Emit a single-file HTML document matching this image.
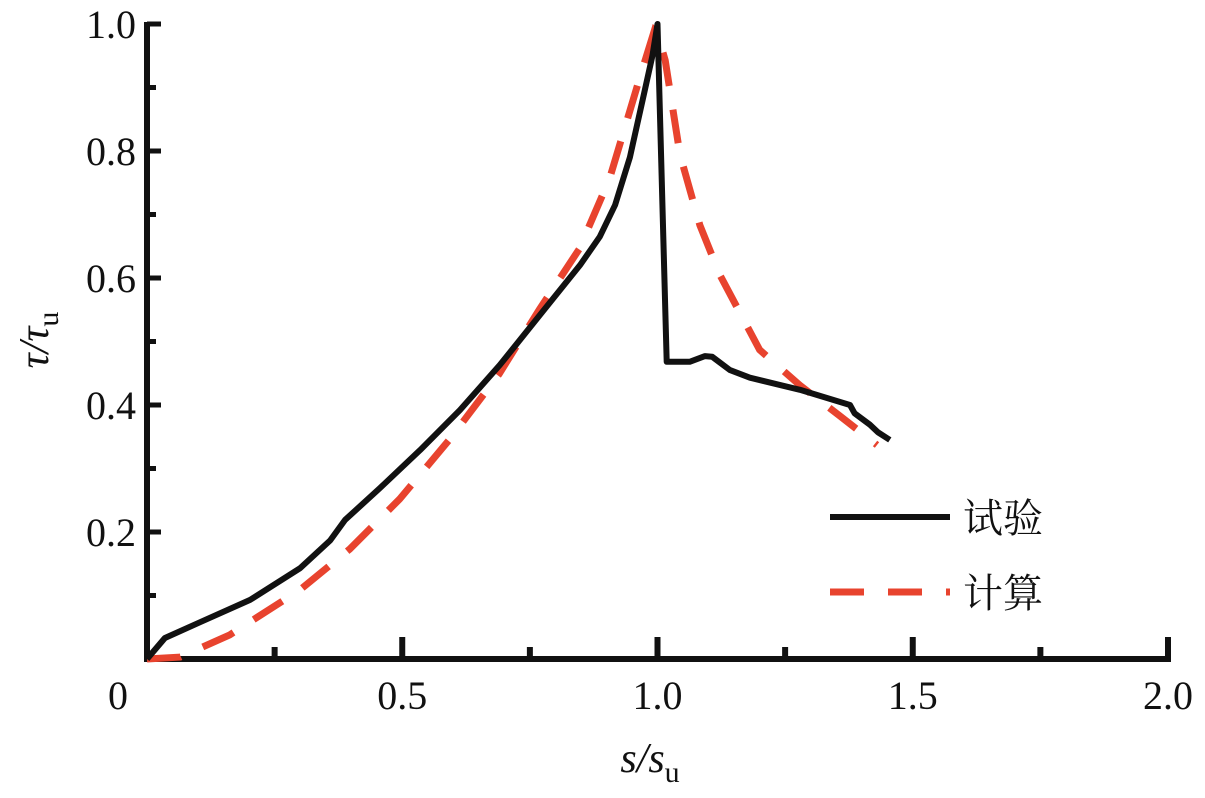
<!DOCTYPE html>
<html><head><meta charset="utf-8"><style>
body{margin:0;background:#fff;}
svg text{font-family:"Liberation Serif","Noto Serif CJK SC",serif;fill:#111;}
</style></head><body>
<svg id="chart" width="1205" height="793" viewBox="0 0 1205 793" xmlns="http://www.w3.org/2000/svg">
<g id="axes"></g>
<g id="series"></g>
<text transform="translate(48,340) rotate(-90)" text-anchor="middle" font-size="42" font-style="italic">τ/τ<tspan font-style="normal" font-size="30" dy="10">u</tspan></text>
<text x="650" y="772" text-anchor="middle" font-size="42" font-style="italic">s/s<tspan font-style="normal" font-size="30" dy="10">u</tspan></text>
<g>
<line x1="830" y1="517" x2="950" y2="517" stroke="#111" stroke-width="6"/>
<text x="963" y="532" font-size="40">试验</text>
<line x1="830" y1="592" x2="950" y2="592" stroke="#e8432e" stroke-width="7" stroke-dasharray="34,24"/>
<text x="963" y="607" font-size="40">计算</text>
</g>
</svg>
<script>
const testX=[0,0.035,0.104,0.202,0.3,0.359,0.388,0.456,0.535,0.613,0.691,0.770,0.848,0.887,0.917,0.946,0.975,0.99,1.0,1.018,1.063,1.093,1.107,1.142,1.181,1.279,1.377,1.386,1.416,1.432,1.455];
const testY=[0,0.033,0.058,0.093,0.143,0.187,0.219,0.269,0.329,0.392,0.463,0.542,0.620,0.665,0.715,0.790,0.895,0.95,1.0,0.468,0.468,0.477,0.476,0.455,0.443,0.424,0.400,0.387,0.369,0.357,0.345];
const calcX=[0,0.065,0.162,0.3,0.397,0.495,0.593,0.690,0.769,0.847,0.906,0.964,0.994,1.0,1.015,1.044,1.083,1.122,1.2,1.279,1.357,1.43];
const calcY=[0,0.003,0.038,0.109,0.173,0.252,0.346,0.449,0.551,0.646,0.756,0.912,0.99,0.985,0.943,0.794,0.683,0.605,0.487,0.431,0.383,0.337];
const xTicks=[0,0.5,1.0,1.5,2.0];
const xTickLabels=["0","0.5","1.0","1.5","2.0"];
const yTicks=[0.2,0.4,0.6,0.8,1.0];
const yTickLabels=["0.2","0.4","0.6","0.8","1.0"];
const X=v=>147+v*510.5, Y=v=>659-v*635;
const NS="http://www.w3.org/2000/svg";
const axes=document.getElementById('axes'), series=document.getElementById('series');
function mk(t,a,p){const e=document.createElementNS(NS,t);for(const k in a)e.setAttribute(k,a[k]);p.appendChild(e);return e;}
let e=mk('line',{x1:147,y1:Y(0),x2:1171,y2:Y(0),stroke:'#111','stroke-width':6},axes);


e=mk('line',{x1:147,y1:22,x2:147,y2:662,stroke:'#111','stroke-width':6},axes);


for(let i=1;i<=8;i++){const v=i*0.25;const major=i%2===0;
 e=mk('line',{x1:X(v),y1:Y(0),x2:X(v),y2:Y(0)-(major?22:12),stroke:'#111','stroke-width':6},axes);
 
 }
for(let i=1;i<=10;i++){const v=i*0.1;const major=i%2===0;
 e=mk('line',{x1:147,y1:Y(v),x2:147+(major?14:9),y2:Y(v),stroke:'#111','stroke-width':5},axes);
 
 }
xTicks.forEach((v,i)=>{e=mk('text',{x:i===0?118:X(v),y:709,'text-anchor':'middle','font-size':40},axes);e.textContent=xTickLabels[i];
 
 });
yTicks.forEach((v,i)=>{e=mk('text',{x:136,y:Y(v)+14,'text-anchor':'end','font-size':40},axes);e.textContent=yTickLabels[i];
 
 });
const pts=(xs,ys)=>xs.map((x,i)=>X(x).toFixed(1)+','+Y(ys[i]).toFixed(1)).join(' ');
e=mk('polyline',{points:pts(calcX,calcY),fill:'none',stroke:'#e8432e','stroke-width':7,'stroke-dasharray':'34,24'},series);


e=mk('polyline',{points:pts(testX,testY),fill:'none',stroke:'#111','stroke-width':6,'stroke-linejoin':'round'},series);


</script>
</body></html>
